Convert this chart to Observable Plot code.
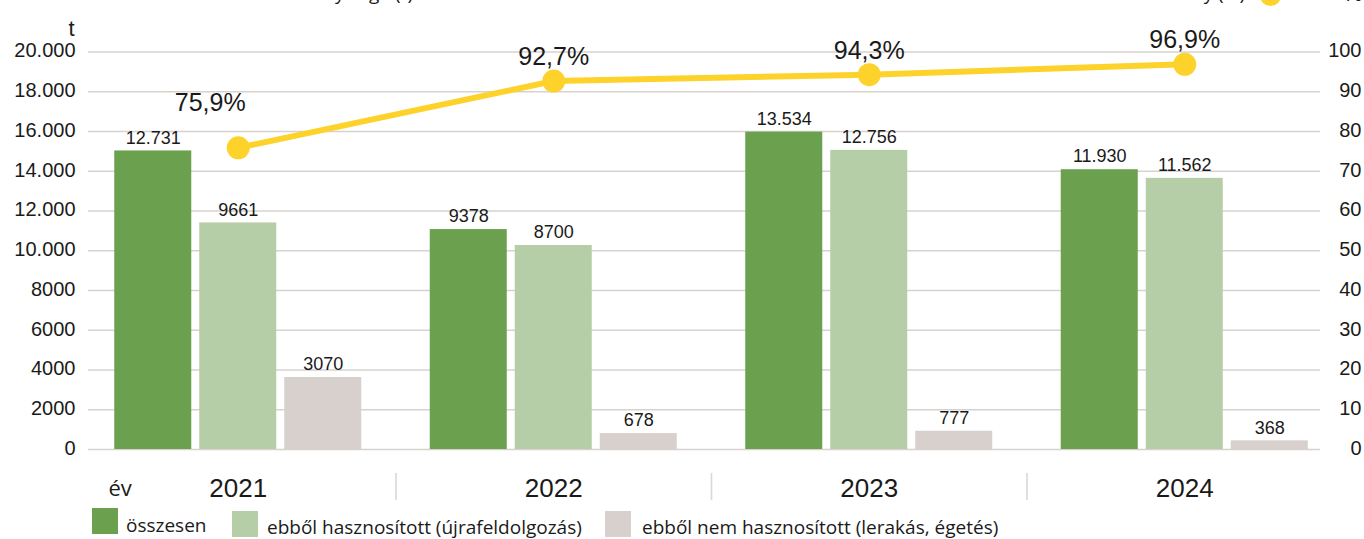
<!DOCTYPE html>
<html>
<head>
<meta charset="utf-8">
<script src="https://cdn.jsdelivr.net/npm/d3@7"></script>
<script src="https://cdn.jsdelivr.net/npm/@observablehq/plot@0.6"></script>
<style>
  html, body { margin: 0; padding: 0; background: #fff; }
  #chart { position: relative; width: 1364px; height: 539px; overflow: hidden; background: #fff; }
  #chart > svg, #chart > figure { position: absolute; left: 0; top: 0; margin: 0; }
  .lg { position: absolute; font-family: "Open Sans", sans-serif; font-size: 19px; line-height: 19px; color: #1a1a1a; white-space: nowrap; }
  .sw { position: absolute; width: 26px; height: 26px; }
</style>
</head>
<body>
<div id="chart"></div>
<script>
// ---- data ----
const years = ["2021", "2022", "2023", "2024"];
const total = [12731, 9378, 13534, 11930];
const recycled = [9661, 8700, 12756, 11562];
const nonRecycled = [3070, 678, 777, 368];
const rate = [75.9, 92.7, 94.3, 96.9];
const leftTicks = [0, 2000, 4000, 6000, 8000, 10000, 12000, 14000, 16000, 18000, 20000];
const rightTicks = [0, 10, 20, 30, 40, 50, 60, 70, 80, 90, 100];
const series = ["összesen", "ebből hasznosított (újrafeldolgozás)", "ebből nem hasznosított (lerakás, égetés)"];
const colors = ["#6aa04e", "#b5cea7", "#d8d0cd"];
const yellow = "#fdd32b";

// ---- layout ----
const W = 1364, H = 539;
const TOP = 51.5, BOTTOM = 90;
const textColor = "#1a1a1a";
const fmtT = d => d >= 10000 ? d3.format(",")(d).replace(/,/g, ".") : String(d);
const fmtP = d => d.toFixed(1).replace(".", ",") + "%";

const rows = years.flatMap((yr, i) => [
  {year: yr, series: series[0], value: total[i]},
  {year: yr, series: series[1], value: recycled[i]},
  {year: yr, series: series[2], value: nonRecycled[i]}
]);
const lineRows = years.map((yr, i) => ({year: yr, rate: rate[i]}));

const chart = document.getElementById("chart");
const baseStyle = {background: "transparent", fontFamily: "Liberation Sans, Arial, sans-serif", color: textColor, overflow: "visible"};

// 1) grid + left axis
const grid = Plot.plot({
  width: W, height: H,
  marginTop: TOP, marginBottom: BOTTOM, marginLeft: 88, marginRight: 44,
  y: {domain: [0, 20000], axis: null},
  style: baseStyle,
  marks: [
    Plot.ruleY(leftTicks, {y: d => d, stroke: "#d7d2ce", strokeWidth: 1.6}),
    Plot.text(leftTicks, {y: d => d, text: d => fmtT(d), frameAnchor: "left", textAnchor: "end", dx: -13, dy: -1, fontSize: 20, fill: textColor}),
    Plot.text(["t"], {text: d => d, frameAnchor: "top-left", textAnchor: "end", dx: -14, dy: -32, fontSize: 22, fill: textColor})
  ]
});
chart.appendChild(grid);

// 2) bars (bar scale drawn as in the reference, axis labels from layer 1)
const bars = Plot.plot({
  width: W, height: H,
  marginTop: TOP, marginBottom: BOTTOM, marginLeft: 80, marginRight: 22,
  facet: {data: rows, x: "year"},
  fx: {domain: years, padding: 0, axis: null, round: false},
  x: {domain: series, paddingInner: 8 / 85, paddingOuter: 0.403, axis: null, round: false},
  y: {domain: [0, 16950], axis: null},
  color: {domain: series, range: colors},
  style: baseStyle,
  marks: [
    Plot.barY(rows, {x: "series", y: "value", fill: "series"}),
    Plot.text(rows, {x: "series", y: "value", text: d => fmtT(d.value), dy: -13, fontSize: 18, fill: textColor})
  ]
});
chart.appendChild(bars);

// 3) bottom category axis
const step = (W - 80 - 22) / years.length;
const axis = Plot.plot({
  width: W, height: H,
  marginTop: 473, marginBottom: 39, marginLeft: 80, marginRight: 22,
  x: {type: "band", domain: years, padding: 0, axis: null, round: false},
  style: baseStyle,
  marks: [
    Plot.ruleX(years.slice(1), {x: d => d, dx: -step / 2, stroke: "#dcd7d3", strokeWidth: 1.6}),
    Plot.text(years, {x: d => d, text: d => d, frameAnchor: "middle", dy: 1.5, fontSize: 26, fill: textColor}),
    Plot.text(["év"], {text: d => d, frameAnchor: "left", textAnchor: "start", dx: 28, dy: 2, fontSize: 22, fontFamily: "Open Sans", fill: textColor})
  ]
});
chart.appendChild(axis);

// 4) rate line + right axis
const line = Plot.plot({
  width: W, height: H,
  marginTop: TOP, marginBottom: BOTTOM, marginLeft: 80, marginRight: 22,
  x: {type: "band", domain: years, padding: 0, axis: null, round: false},
  y: {domain: [0, 100], axis: null},
  style: baseStyle,
  marks: [
    Plot.line(lineRows, {x: "year", y: "rate", stroke: yellow, strokeWidth: 6}),
    Plot.dot(lineRows, {x: "year", y: "rate", r: 11.5, fill: yellow}),
    Plot.text(lineRows.slice(0, 1), {x: "year", y: "rate", text: d => fmtP(d.rate), dx: -28, dy: -45, fontSize: 25, fill: textColor}),
    Plot.text(lineRows.slice(1), {x: "year", y: "rate", text: d => fmtP(d.rate), dy: -24, fontSize: 25, fill: textColor}),
    Plot.text(rightTicks, {y: d => d, text: d => String(d), frameAnchor: "right", textAnchor: "end", dx: 19, dy: -1, fontSize: 20, fill: textColor})
  ]
});
chart.appendChild(line);

// ---- legend (HTML) ----
function addSwatch(x, y, c) {
  const s = document.createElement("div");
  s.className = "sw"; s.style.left = x + "px"; s.style.top = y + "px"; s.style.background = c;
  chart.appendChild(s);
}
function addLabel(x, y, t, extra) {
  const s = document.createElement("div");
  s.className = "lg"; s.style.left = x + "px"; s.style.top = y + "px"; s.textContent = t;
  if (extra) Object.assign(s.style, extra);
  chart.appendChild(s);
  return s;
}
addSwatch(92, 508, colors[0]); addLabel(126, 516, series[0]);
addSwatch(232, 511, colors[1]); addLabel(267, 518, series[1]);
addSwatch(605, 511, colors[2]); addLabel(642, 518, series[2]);

// top legend row (cut off by the picture's top edge)
addLabel(0, -16, "Keletkezett hulladék mennyisége (t)", {left: "auto", right: (W - 413) + "px"});
addLabel(0, -16, "hasznosítási arány (%)", {left: "auto", right: (W - 1245) + "px"});
const c = document.createElement("div");
Object.assign(c.style, {position: "absolute", left: "1260px", top: "-15px", width: "21px", height: "21px", borderRadius: "50%", background: yellow});
chart.appendChild(c);
addLabel(1343, -17, "%", {fontFamily: "Liberation Sans, Arial, sans-serif", fontSize: "22px", lineHeight: "22px"});
</script>
</body>
</html>
